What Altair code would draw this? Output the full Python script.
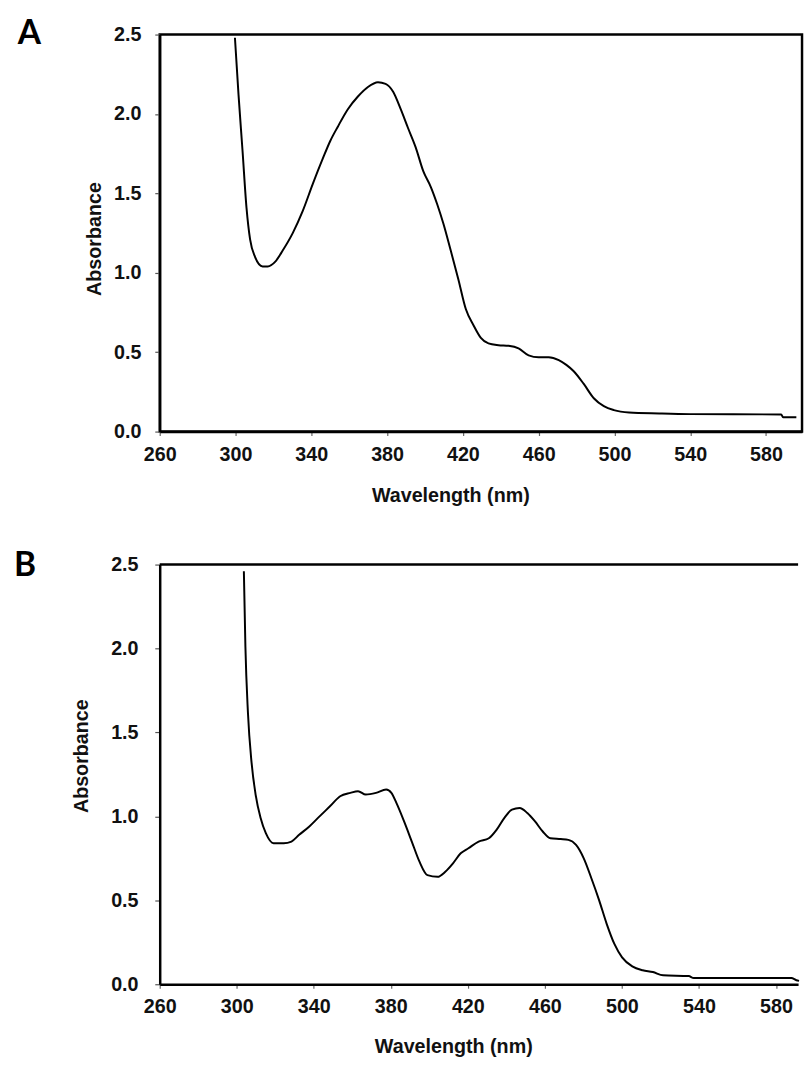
import altair as alt
import pandas as pd

# ---------------- data ----------------
panels = ["A", "B"]

wl_a = [299.7, 301.6, 303.7, 305.8, 307.7, 310.3, 314.3, 317.0, 321.0, 324.9,
        330.2, 335.5, 340.8, 346.1, 350.0, 354.0, 359.3, 364.6, 369.9, 375.2,
        379.2, 383.2, 387.2, 391.1, 395.1, 399.1, 403.1, 406.5, 409.7, 413.6,
        417.6, 421.6, 425.6, 429.5, 433.5, 438.8, 444.1, 449.4, 454.7, 460.0,
        465.3, 470.6, 474.6, 478.5, 483.8, 489.1, 494.4, 499.7, 507.7, 523.6,
        540.0, 588.0, 589.0, 596.0]
abs_a = [2.48, 2.12, 1.77, 1.41, 1.21, 1.10, 1.04, 1.04, 1.07, 1.14,
         1.25, 1.39, 1.56, 1.72, 1.83, 1.92, 2.03, 2.11, 2.17, 2.20,
         2.19, 2.14, 2.03, 1.91, 1.79, 1.64, 1.54, 1.43, 1.31, 1.14,
         0.96, 0.77, 0.67, 0.59, 0.555, 0.544, 0.54, 0.524, 0.48, 0.468,
         0.468, 0.45, 0.42, 0.38, 0.30, 0.21, 0.16, 0.135, 0.12, 0.114,
         0.11, 0.108, 0.09, 0.09]

wl_b = [303.7, 304.5, 305.8, 307.7, 309.8, 312.4, 315.1, 319.1, 324.4, 328.4,
        332.4, 337.7, 343.0, 348.4, 353.7, 359.0, 363.0, 367.0, 372.3, 377.6,
        380.3, 382.9, 386.9, 390.9, 394.9, 399.0, 404.3, 408.3, 412.3, 416.3,
        420.3, 425.6, 430.9, 434.9, 438.9, 442.9, 446.9, 450.9, 454.9, 458.9,
        462.9, 468.2, 472.2, 476.2, 480.2, 484.2, 488.2, 492.1, 496.1, 500.1,
        505.4, 510.8, 516.1, 521.4, 534.7, 537.3, 561.3, 588.0, 590.6, 592.0]
abs_b = [2.46, 2.01, 1.62, 1.32, 1.13, 0.99, 0.90, 0.84, 0.84, 0.85,
         0.89, 0.94, 1.00, 1.06, 1.12, 1.14, 1.15, 1.13, 1.14, 1.16,
         1.14, 1.08, 0.97, 0.85, 0.73, 0.65, 0.64, 0.67, 0.72, 0.78,
         0.81, 0.85, 0.87, 0.92, 0.99, 1.04, 1.05, 1.02, 0.97, 0.91,
         0.87, 0.865, 0.86, 0.83, 0.75, 0.63, 0.50, 0.36, 0.24, 0.16,
         0.106, 0.083, 0.073, 0.053, 0.049, 0.037, 0.037, 0.037, 0.024, 0.02]

x_ticks = [260, 300, 340, 380, 420, 460, 500, 540, 580]
y_ticks = [0.0, 0.5, 1.0, 1.5, 2.0, 2.5]

FONT = "Liberation Sans"
INK = "#111111"


def panel(letter, wl, ab, width, height, xmax, boxed, ytitle_x, ytitle_y,
          xtitle_x, xtitle_y, letter_x, letter_y, ylabel_pad):
    df = pd.DataFrame({"wl": wl, "abs": ab})
    xs = alt.Scale(domain=[260, xmax], nice=False, zero=False)
    ys = alt.Scale(domain=[0, 2.5], nice=False, zero=True)
    x_axis = alt.Axis(
        values=x_ticks, title="Wavelength (nm)", grid=False,
        domainColor="black", domainWidth=2.5, tickColor="#666666",
        tickSize=4, tickWidth=1.2, labelFont=FONT, labelFontSize=20,
        labelFontWeight="bold", labelColor=INK, labelPadding=9,
        labelFlush=False, labelOverlap=False,
        titleFont=FONT, titleFontSize=20, titleFontWeight="bold",
        titleColor=INK, titleX=xtitle_x, titleY=xtitle_y,
        titleAlign="center", titleBaseline="middle")
    y_axis = alt.Axis(
        values=y_ticks, format=".1f", title="Absorbance", grid=False,
        domainColor="black", domainWidth=2.5, tickColor="#555555",
        tickSize=5, tickWidth=1.2, labelFont=FONT, labelFontSize=20,
        labelFontWeight="bold", labelColor=INK, labelPadding=ylabel_pad,
        labelFlush=False, labelOverlap=False,
        titleFont=FONT, titleFontSize=20, titleFontWeight="bold",
        titleColor=INK, titleX=ytitle_x, titleY=ytitle_y,
        titleAlign="center", titleBaseline="middle", titleAngle=270)

    line = alt.Chart(df).mark_line(
        color="black", strokeWidth=2, interpolate="monotone").encode(
        x=alt.X("wl:Q", scale=xs, axis=x_axis),
        y=alt.Y("abs:Q", scale=ys, axis=y_axis),
    )
    lab = alt.Chart(pd.DataFrame({"p": [letter]})).mark_text(
        font="Lato", fontSize=34, fontWeight="bold", color="black",
        align="left", baseline="middle").encode(
        x=alt.value(letter_x), y=alt.value(letter_y), text="p:N")
    layers = [line, lab]
    if not boxed:
        top = alt.Chart(pd.DataFrame({"v": [2.5]})).mark_rule(
            color="black", strokeWidth=2.5).encode(y=alt.Y("v:Q", scale=ys))
        layers.append(top)
    view = (alt.ViewBackground(stroke="black", strokeWidth=2.5) if boxed
            else alt.ViewBackground(stroke="transparent"))
    return alt.layer(*layers).properties(width=width, height=height, view=view)


chart_a = panel("A", wl_a, abs_a, 652, 403, 599, True,
                ytitle_x=-66, ytitle_y=207, xtitle_x=295, xtitle_y=65,
                letter_x=-144, letter_y=0, ylabel_pad=14)
chart_b = panel("B", wl_b, abs_b, 648, 426, 591.5, False,
                ytitle_x=-79, ytitle_y=194, xtitle_x=298, xtitle_y=63,
                letter_x=-148, letter_y=2, ylabel_pad=17)

chart = alt.concat(chart_a, chart_b, columns=1, align="none", spacing=42).configure(
    padding={"left": 5, "top": 0, "right": 0, "bottom": 0},
    background="white",
)

chart.save("out.html", embed_options={"renderer": "svg", "actions": False})
